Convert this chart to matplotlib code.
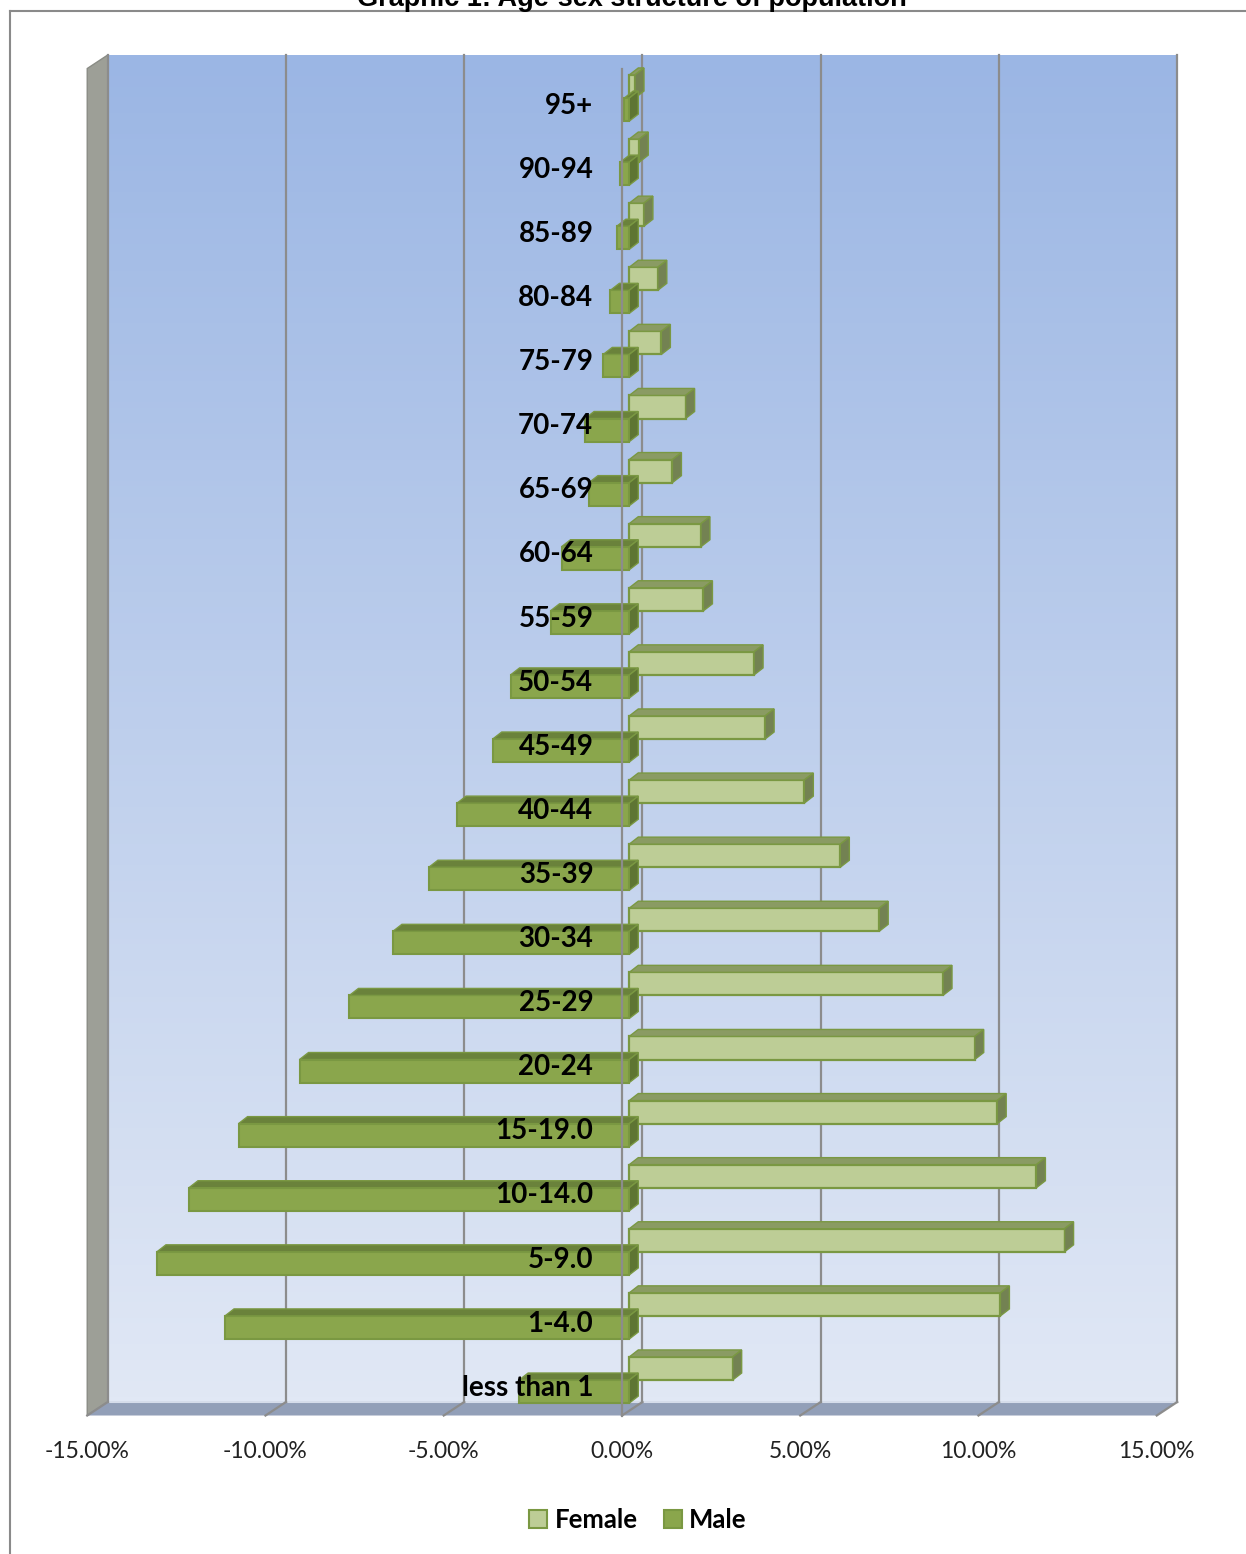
import numpy as np
import matplotlib
matplotlib.use("Agg")
import matplotlib.pyplot as plt
from matplotlib.patches import Polygon, Patch

plt.rcParams['font.family'] = ['Lato', 'DejaVu Sans']

# age groups from the bottom of the pyramid to the top
ages = ['less than 1', '1-4.0', '5-9.0', '10-14.0', '15-19.0', '20-24', '25-29',
        '30-34', '35-39', '40-44', '45-49', '50-54', '55-59', '60-64', '65-69',
        '70-74', '75-79', '80-84', '85-89', '90-94', '95+']
# share of population, %
female = [2.90, 10.41, 12.21, 11.42, 10.32, 9.69, 8.80, 7.01, 5.92, 4.91, 3.81,
          3.50, 2.08, 2.01, 1.21, 1.58, 0.90, 0.80, 0.41, 0.28, 0.16]
male = [3.09, 11.34, 13.25, 12.35, 10.96, 9.25, 7.85, 6.63, 5.62, 4.83, 3.83,
        3.33, 2.21, 1.90, 1.13, 1.24, 0.73, 0.53, 0.35, 0.25, 0.14]
ticks = [-15, -10, -5, 0, 5, 10, 15]

# 3d look (data units)
wall_dx, wall_dy = 0.575, 0.211      # front plane -> back wall
front_dx, front_dy = -0.205, -0.075  # bar plane -> front plane
bar_dx, bar_dy = 0.2525, 0.109       # depth of one bar
bar_h = 0.36
floor_back = -0.343
wall_top = 20.671

f_face, f_top, f_side, f_edge = '#BDCD96', '#8A9B63', '#738252', '#7A9842'
m_face, m_top, m_side, m_edge = '#8AA64C', '#6A823B', '#5E7533', '#7A9842'
grid_c = '#8C8C8C'

fig = plt.figure(figsize=(12.46, 15.54), dpi=100)
ax = fig.add_axes([0, 0, 1, 1])
ax.axis('off')

bx0 = ticks[0] + front_dx + wall_dx
bx1 = ticks[-1] + front_dx + wall_dx
fx0 = ticks[0] + front_dx
fx1 = ticks[-1] + front_dx
floor_front = floor_back - wall_dy

# back wall gradient
grad = np.linspace(0, 1, 256).reshape(-1, 1)
cmap = matplotlib.colors.LinearSegmentedColormap.from_list('wall', ['#E1E8F5', '#9BB6E4'])
ax.imshow(grad, extent=[bx0, bx1, floor_back, wall_top], origin='lower',
          cmap=cmap, aspect='auto', zorder=0)

# left side wall and floor
ax.add_patch(Polygon([(fx0, floor_front), (fx0, wall_top - wall_dy),
                      (bx0, wall_top), (bx0, floor_back)],
                     closed=True, fc='#9D9F97', ec='#8A8C85', lw=1, zorder=1))
ax.add_patch(Polygon([(fx0, floor_front), (fx1, floor_front),
                      (bx1, floor_back), (bx0, floor_back)],
                     closed=True, fc='#929FB8', ec='none', zorder=1))
ax.plot([bx0, bx1], [floor_back, floor_back], color='#D5DCEA', lw=1.5, zorder=1)

# gridlines on the wall and floor
for t in ticks:
    xb = t + front_dx + wall_dx
    xf = t + front_dx
    ax.plot([xb, xb], [floor_back, wall_top], color=grid_c, lw=1.6, zorder=2)
    ax.plot([xb, xf], [floor_back, floor_front], color=grid_c, lw=1.6, zorder=2)

y = np.arange(len(ages))
fem = np.array(female)
mal = np.array(male)

# female bars (above the category line)
ax.barh(y, fem, height=bar_h, left=0, align='edge', color=f_face,
        edgecolor=f_edge, linewidth=1.6, zorder=3)
for yi, v in zip(y, fem):
    top = yi + bar_h
    ax.add_patch(Polygon([(0, top), (v, top), (v + bar_dx, top + bar_dy), (bar_dx, top + bar_dy)],
                         closed=True, fc=f_top, ec=f_edge, lw=1, zorder=3))
    ax.add_patch(Polygon([(v, yi), (v, top), (v + bar_dx, top + bar_dy), (v + bar_dx, yi + bar_dy)],
                         closed=True, fc=f_side, ec=f_edge, lw=1, zorder=3))

# male bars (below the category line, pointing left)
ax.barh(y - bar_h, mal, height=bar_h, left=-mal, align='edge', color=m_face,
        edgecolor=m_edge, linewidth=1.5, zorder=4)
for yi, v in zip(y, mal):
    top = yi
    ax.add_patch(Polygon([(-v, top), (0, top), (bar_dx, top + bar_dy), (-v + bar_dx, top + bar_dy)],
                         closed=True, fc=m_top, ec=m_edge, lw=1, zorder=4))
    ax.add_patch(Polygon([(0, yi - bar_h), (0, top), (bar_dx, top + bar_dy), (bar_dx, yi - bar_h + bar_dy)],
                         closed=True, fc=m_side, ec=m_edge, lw=1, zorder=4))

# vertical axis line on the front plane
ax.plot([front_dx, front_dx], [floor_front, wall_top - wall_dy], color=grid_c, lw=1.6, zorder=5)

# category labels
for yi, lab in zip(y, ages):
    ax.text(-1.01, yi - 0.245, lab, ha='right', va='baseline', fontsize=20,
            fontweight='bold', color='black', zorder=6)

# value axis labels
for t in ticks:
    ax.text(t + front_dx, -1.217, f"{t:.2f}%", ha='center', va='baseline',
            fontsize=16.5, color='#222222')

ax.set_xlim(-17.652, 17.299)
ax.set_ylim(-2.7145, 21.529)

fig.legend(handles=[Patch(fc=f_face, ec=f_edge, lw=1.5, label='Female'),
                    Patch(fc=m_face, ec=m_edge, lw=1.5, label='Male')],
           loc='center', bbox_to_anchor=(638 / 1246, 1 - 1520 / 1554), ncol=2,
           frameon=False, prop={'weight': 'bold', 'size': 18.5},
           handlelength=0.7, handleheight=0.7, handletextpad=0.3, columnspacing=1.0)

# outer frame and cut-off title (the source picture is cropped at the top)
fig.add_artist(plt.Line2D([10 / 1246, 1], [1 - 11 / 1554, 1 - 11 / 1554],
                          transform=fig.transFigure, color='#8A8A8A', lw=1.5))
fig.add_artist(plt.Line2D([10 / 1246, 10 / 1246], [0, 1 - 11 / 1554],
                          transform=fig.transFigure, color='#8A8A8A', lw=1.5))
fig.text(632 / 1246, 1 - 6 / 1554, 'Graphic 1: Age-sex structure of population',
         ha='center', va='baseline', fontsize=19.5, fontweight='bold',
         family=['Liberation Sans', 'DejaVu Sans'])

fig.savefig('out.png', dpi=100)
